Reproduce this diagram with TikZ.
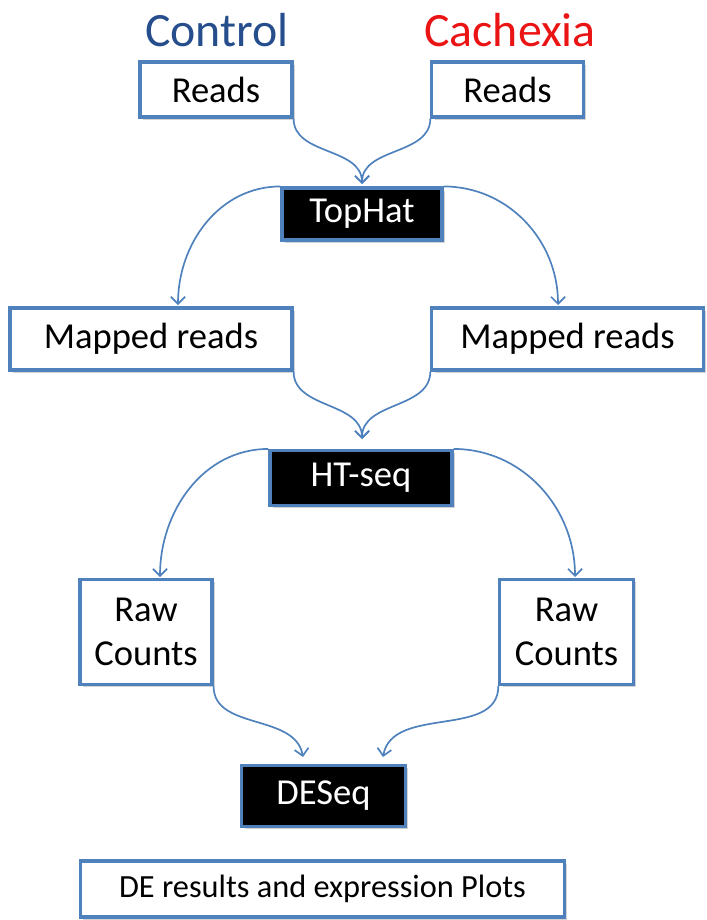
\documentclass[tikz,border=0pt]{standalone}
\usepackage{fontspec}
\setmainfont{Carlito}
\usepackage{tikz}
\usetikzlibrary{arrows.meta,shadows}
\definecolor{boxblue}{RGB}{79,129,189}
\definecolor{ctrlblue}{RGB}{38,78,140}
\definecolor{cachred}{RGB}{235,20,20}

\begin{document}
\begin{tikzpicture}[x=0.025cm, y=-0.025cm,
    every node/.style={font=\fontsize{26}{31}\selectfont},
    box/.style={draw=boxblue, line width=2.2pt, fill=white, align=center,
        drop shadow={shadow xshift=2pt, shadow yshift=-2pt, opacity=.35}},
    tool/.style={box, fill=black, text=white},
    flow/.style={draw=boxblue, line width=1.2pt, -{Straight Barb[length=5pt,width=10pt]}}]
    \useasboundingbox (0,0) rectangle (706,920);
    % groups
    \node[text=ctrlblue, font=\fontsize{34}{40}\selectfont] (ctrl) at (217,30) {Control};
    \node[text=cachred, font=\fontsize{34}{40}\selectfont] (cach) at (510,30) {Cachexia};
    % boxes
    \node[box, minimum width=3.8cm, minimum height=1.375cm] (readsL) at (216,89.5) {Reads};
    \node[box, minimum width=3.78cm, minimum height=1.375cm] (readsR) at (507.5,89.5) {Reads};
    \node[tool, minimum width=4cm, minimum height=1.3cm] (tophat) at (362,214) {TopHat};
    \node[box, minimum width=7.05cm, minimum height=1.55cm] (mapL) at (151,339) {Mapped reads};
    \node[box, minimum width=6.78cm, minimum height=1.55cm] (mapR) at (567.5,339) {Mapped reads};
    \node[tool, minimum width=4.55cm, minimum height=1.375cm] (htseq) at (361,478) {HT-seq};
    \node[box, minimum width=3.3cm, minimum height=2.625cm] (rawL) at (146,632) {Raw\\Counts};
    \node[box, minimum width=3.33cm, minimum height=2.625cm] (rawR) at (566.5,632) {Raw\\Counts};
    \node[tool, minimum width=4.08cm, minimum height=1.525cm] (deseq) at (323.5,796) {DESeq};
    \node[box, minimum width=12.1cm, minimum height=1.4cm, font=\fontsize{23}{28}\selectfont] (result) at (322.5,889) {DE results and expression Plots};
    % arrow ends
    \coordinate (inTop) at (362,184);
    \coordinate (inMapL) at (178,305);
    \coordinate (inMapR) at (558,305);
    \coordinate (inHt) at (362,439);
    \coordinate (inRawL) at (160,577);
    \coordinate (inRawR) at (575,577);
    \coordinate (inDeL) at (303,757);
    \coordinate (inDeR) at (383,757);
    % connectors
    \draw[flow] (readsL.south east) to[out=-90, in=90] (inTop);
    \draw[flow] (readsR.south west) to[out=-90, in=90] (inTop);
    \draw[flow] (tophat.north west) to[out=180, in=90] (inMapL);
    \draw[flow] (tophat.north east) to[out=0, in=90] (inMapR);
    \draw[flow] (mapL.south east) to[out=-90, in=90] (inHt);
    \draw[flow] (mapR.south west) to[out=-90, in=90] (inHt);
    \draw[flow] (htseq.north west) to[out=180, in=90] (inRawL);
    \draw[flow] (htseq.north east) to[out=0, in=90] (inRawR);
    \draw[flow] (rawL.south east) to[out=-90, in=100] (inDeL);
    \draw[flow] (rawR.south west) to[out=-90, in=80] (inDeR);
\end{tikzpicture}
\end{document}
